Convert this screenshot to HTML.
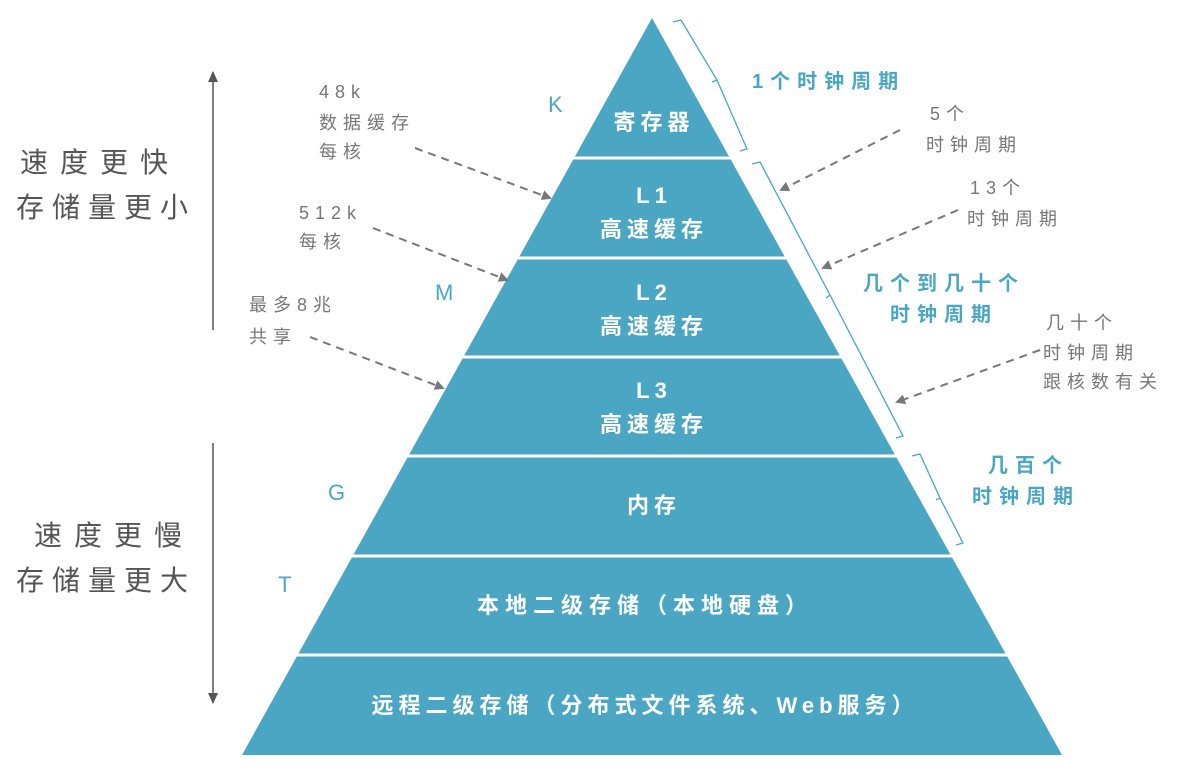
<!DOCTYPE html>
<html><head><meta charset="utf-8"><style>
html,body{margin:0;padding:0;background:#fff;}
svg text{font-family:"Liberation Sans","Noto Sans CJK SC",sans-serif;}
</style></head><body>
<svg width="1178" height="774" viewBox="0 0 1178 774" xmlns="http://www.w3.org/2000/svg">
<defs>
<marker id="ag" markerWidth="10" markerHeight="10" refX="8" refY="5" orient="auto" markerUnits="userSpaceOnUse"><path d="M0,0 L10,5 L0,10 z" fill="#777"/></marker>
<marker id="ak" markerWidth="12" markerHeight="12" refX="10" refY="6" orient="auto" markerUnits="userSpaceOnUse"><path d="M0,1 L11,6 L0,11 z" fill="#555"/></marker>
</defs>
<polygon points="652,18 1062,755 242,755" fill="#4aa6c3"/>
<g stroke="#fff" stroke-width="3">
<line x1="560" y1="158" x2="750" y2="158"/>
<line x1="500" y1="258" x2="810" y2="258"/>
<line x1="450" y1="357" x2="860" y2="357"/>
<line x1="395" y1="456" x2="910" y2="456"/>
<line x1="340" y1="556" x2="965" y2="556"/>
<line x1="285" y1="655" x2="1020" y2="655"/>
</g>
<g fill="#fff" font-size="22" text-anchor="middle" letter-spacing="5" font-weight="bold">
<text x="654" y="130">寄存器</text>
<text x="654" y="203">L1</text>
<text x="654" y="237">高速缓存</text>
<text x="654" y="300">L2</text>
<text x="654" y="334">高速缓存</text>
<text x="654" y="398">L3</text>
<text x="654" y="432">高速缓存</text>
<text x="654" y="513">内存</text>
<text x="645" y="613" letter-spacing="6">本地二级存储（本地硬盘）</text>
<text x="645" y="713" letter-spacing="5">远程二级存储（分布式文件系统、Web服务）</text>
</g>
<g fill="#4aa6c3" font-size="22">
<text x="548" y="112">K</text>
<text x="435" y="300">M</text>
<text x="328" y="500">G</text>
<text x="278" y="592">T</text>
</g>
<g fill="none" stroke="#4aa6c3" stroke-width="1.3">
<path d="M673,22 L681,20 L717,80 L712,82 M717,80 L747,149 L740,151"/>
<path d="M752,164 L760,162 L830,295 L826,298 M830,295 L903,436 L896,438"/>
<path d="M912,456 L920,454 L940,498 L936,500 M940,498 L963,543 L956,545"/>
</g>
<g fill="#4aa6c3" font-size="20" letter-spacing="7" font-weight="bold">
<text x="752" y="88">1个时钟周期</text>
<text x="863" y="290">几个到几十个</text>
<text x="890" y="321">时钟周期</text>
<text x="988" y="472">几百个</text>
<text x="972" y="503">时钟周期</text>
</g>
<g fill="#777" font-size="18" letter-spacing="6">
<text x="319" y="98">48k</text>
<text x="319" y="129">数据缓存</text>
<text x="319" y="158">每核</text>
<text x="299" y="219">512k</text>
<text x="299" y="248">每核</text>
<text x="249" y="311">最多8兆</text>
<text x="249" y="343">共享</text>
<text x="930" y="120">5个</text>
<text x="926" y="151">时钟周期</text>
<text x="970" y="194">13个</text>
<text x="967" y="225">时钟周期</text>
<text x="1046" y="329">几十个</text>
<text x="1043" y="359">时钟周期</text>
<text x="1043" y="388">跟核数有关</text>
</g>
<g stroke="#777" stroke-width="2" stroke-dasharray="8,6" fill="none" marker-end="url(#ag)">
<line x1="415" y1="148" x2="550" y2="198"/>
<line x1="373" y1="228" x2="507" y2="280"/>
<line x1="310" y1="337" x2="443" y2="388"/>
<line x1="900" y1="130" x2="781" y2="190"/>
<line x1="958" y1="210" x2="823" y2="268"/>
<line x1="1040" y1="350" x2="897" y2="402"/>
</g>
<g fill="#555" font-size="28" letter-spacing="12">
<text x="20" y="172">速度更快</text>
<text x="16" y="217" letter-spacing="8">存储量更小</text>
<text x="34" y="545">速度更慢</text>
<text x="16" y="590" letter-spacing="8">存储量更大</text>
</g>
<g stroke="#555" stroke-width="1.5">
<line x1="213" y1="330" x2="213" y2="72" marker-end="url(#ak)"/>
<line x1="213" y1="443" x2="213" y2="703" marker-end="url(#ak)"/>
</g>
</svg>
</body></html>
